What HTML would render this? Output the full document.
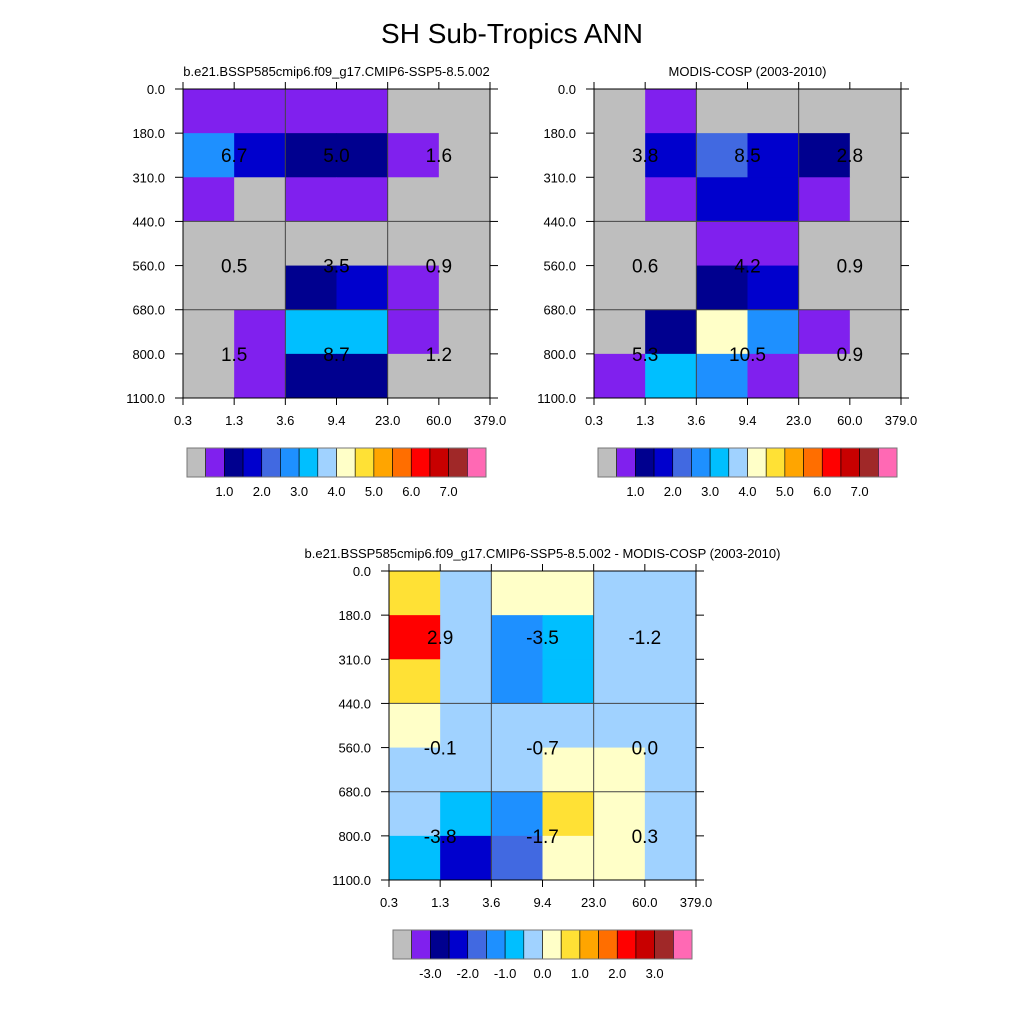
<!DOCTYPE html>
<html><head><meta charset="utf-8"><style>
body{margin:0;background:#fff}
svg text{font-family:"Liberation Sans",Arial,sans-serif}
</style></head><body>
<svg id="s" width="1024" height="1024" viewBox="0 0 1024 1024" xmlns="http://www.w3.org/2000/svg">
<rect width="1024" height="1024" fill="#fff"/>
<text x="512" y="43" font-size="28" text-anchor="middle">SH Sub-Tropics ANN</text>
</svg>
<script>
const yTicks=["0.0","180.0","310.0","440.0","560.0","680.0","800.0","1100.0"];
const xTicks=["0.3","1.3","3.6","9.4","23.0","60.0","379.0"];
const palette=["#bebebe","#8020ee","#00008f","#0000cd","#4169e1","#1e90ff","#00bfff","#a0d2ff","#ffffc8","#ffe135","#ffa500","#ff6e00","#ff0000","#c80000","#a02828","#ff69b4"];
const absLevels=[0.5,1,1.5,2,2.5,3,3.5,4,4.5,5,5.5,6,6.5,7,7.5];
const difLevels=[-3.5,-3,-2.5,-2,-1.5,-1,-0.5,0,0.5,1,1.5,2,2.5,3,3.5];
const absLabels=["1.0","2.0","3.0","4.0","5.0","6.0","7.0"];
const difLabels=["-3.0","-2.0","-1.0","0.0","1.0","2.0","3.0"];
const modelVals=[
[0.7,0.7,0.7,0.7,0.2,0.2],
[2.7,1.7,1.2,1.2,0.7,0.2],
[0.7,0.2,0.7,0.7,0.2,0.2],
[0.2,0.2,0.2,0.2,0.2,0.2],
[0.2,0.2,1.2,1.7,0.7,0.2],
[0.2,0.7,3.2,3.2,0.7,0.2],
[0.2,0.7,1.2,1.2,0.2,0.2]];
const obsVals=[
[0.2,0.7,0.2,0.2,0.2,0.2],
[0.2,1.7,2.2,1.7,1.2,0.2],
[0.2,0.7,1.7,1.7,0.7,0.2],
[0.2,0.2,0.7,0.7,0.2,0.2],
[0.2,0.2,1.2,1.7,0.2,0.2],
[0.2,1.2,4.2,2.7,0.7,0.2],
[0.7,3.2,2.7,0.7,0.2,0.2]];
const diffVals=[
[0.7,-0.2,0.2,0.2,-0.2,-0.2],
[2.2,-0.2,-1.2,-0.7,-0.2,-0.2],
[0.7,-0.2,-1.2,-0.7,-0.2,-0.2],
[0.2,-0.2,-0.2,-0.2,-0.2,-0.2],
[-0.2,-0.2,-0.2,0.2,0.2,-0.2],
[-0.2,-0.7,-1.2,0.7,0.2,-0.2],
[-0.7,-2.2,-1.7,0.2,0.2,-0.2]];
const modelSum=["6.7","5.0","1.6","0.5","3.5","0.9","1.5","8.7","1.2"];
const obsSum=["3.8","8.5","2.8","0.6","4.2","0.9","5.3","10.5","0.9"];
const diffSum=["2.9","-3.5","-1.2","-0.1","-0.7","0.0","-3.8","-1.7","0.3"];

const NS="http://www.w3.org/2000/svg";
const svg=document.getElementById('s');
function mk(tag,attrs,parent){const e=document.createElementNS(NS,tag);for(const k in attrs)e.setAttribute(k,attrs[k]);(parent||svg).appendChild(e);return e;}
function colorOf(v,lv){let i=0;while(i<lv.length&&v>=lv[i])i++;return palette[i];}
function panel(name,x0,y0,title,vals,sums,levels,labels,cbY){
  const W=307,H=309,nc=6,nr=7;
  const xs=c=>x0+c*W/nc, ys=r=>y0+r*H/nr;
  const g=mk('g',{});
  
  
  const t=mk('text',{x:x0+W/2,y:y0-13,'font-size':13,'text-anchor':'middle'},g);t.textContent=title;
  
  
  vals.forEach((row,r)=>row.forEach((v,c)=>{
    const e=mk('rect',{x:xs(c),y:ys(r),width:W/nc+0.5,height:H/nr+0.5,fill:colorOf(v,levels)},g);
    
    
  }));
  [2,4].forEach(c=>mk('line',{x1:xs(c),x2:xs(c),y1:y0,y2:y0+H,stroke:'#444','stroke-width':1},g));
  [3,5].forEach(r=>mk('line',{x1:x0,x2:x0+W,y1:ys(r),y2:ys(r),stroke:'#444','stroke-width':1},g));
  mk('rect',{x:x0,y:y0,width:W,height:H,fill:'none',stroke:'#000','stroke-width':1},g);
  const bandY=[ys(1.5),ys(4),ys(6)];
  sums.forEach((s,i)=>{
    const e=mk('text',{x:xs(1+2*(i%3)),y:bandY[Math.floor(i/3)]+7,'font-size':19,'text-anchor':'middle'},g);e.textContent=s;
    
    
  });
  yTicks.forEach((l,r)=>{
    mk('line',{x1:x0-8,x2:x0,y1:ys(r),y2:ys(r),stroke:'#000'},g);
    mk('line',{x1:x0+W,x2:x0+W+8,y1:ys(r),y2:ys(r),stroke:'#000'},g);
    const e=mk('text',{x:x0-18,y:ys(r)+5,'font-size':13,'text-anchor':'end'},g);e.textContent=l;
    
    
  });
  xTicks.forEach((l,c)=>{
    mk('line',{x1:xs(c),x2:xs(c),y1:y0+H,y2:y0+H+7,stroke:'#000'},g);
    mk('line',{x1:xs(c),x2:xs(c),y1:y0-7,y2:y0,stroke:'#000'},g);
    const e=mk('text',{x:xs(c),y:y0+H+27,'font-size':13,'text-anchor':'middle'},g);e.textContent=l;
    
    
  });
  const cx=x0+4,cw=299/16;
  palette.forEach((p,i)=>{
    const e=mk('rect',{x:cx+i*cw,y:cbY,width:cw,height:29,fill:p,stroke:'#000','stroke-width':0.6},g);
    
    
  });
  mk('rect',{x:cx,y:cbY,width:299,height:29,fill:'none',stroke:'#777','stroke-width':1},g);
  labels.forEach((l,i)=>{
    const e=mk('text',{x:cx+(2+2*i)*cw,y:cbY+48,'font-size':13,'text-anchor':'middle'},g);e.textContent=l;
    
    
  });
}
panel('model-panel',183,89,'b.e21.BSSP585cmip6.f09_g17.CMIP6-SSP5-8.5.002',modelVals,modelSum,absLevels,absLabels,448);
panel('obs-panel',594,89,'MODIS-COSP (2003-2010)',obsVals,obsSum,absLevels,absLabels,448);
panel('diff-panel',389,571,'b.e21.BSSP585cmip6.f09_g17.CMIP6-SSP5-8.5.002 - MODIS-COSP (2003-2010)',diffVals,diffSum,difLevels,difLabels,930);
</script>
</body></html>
